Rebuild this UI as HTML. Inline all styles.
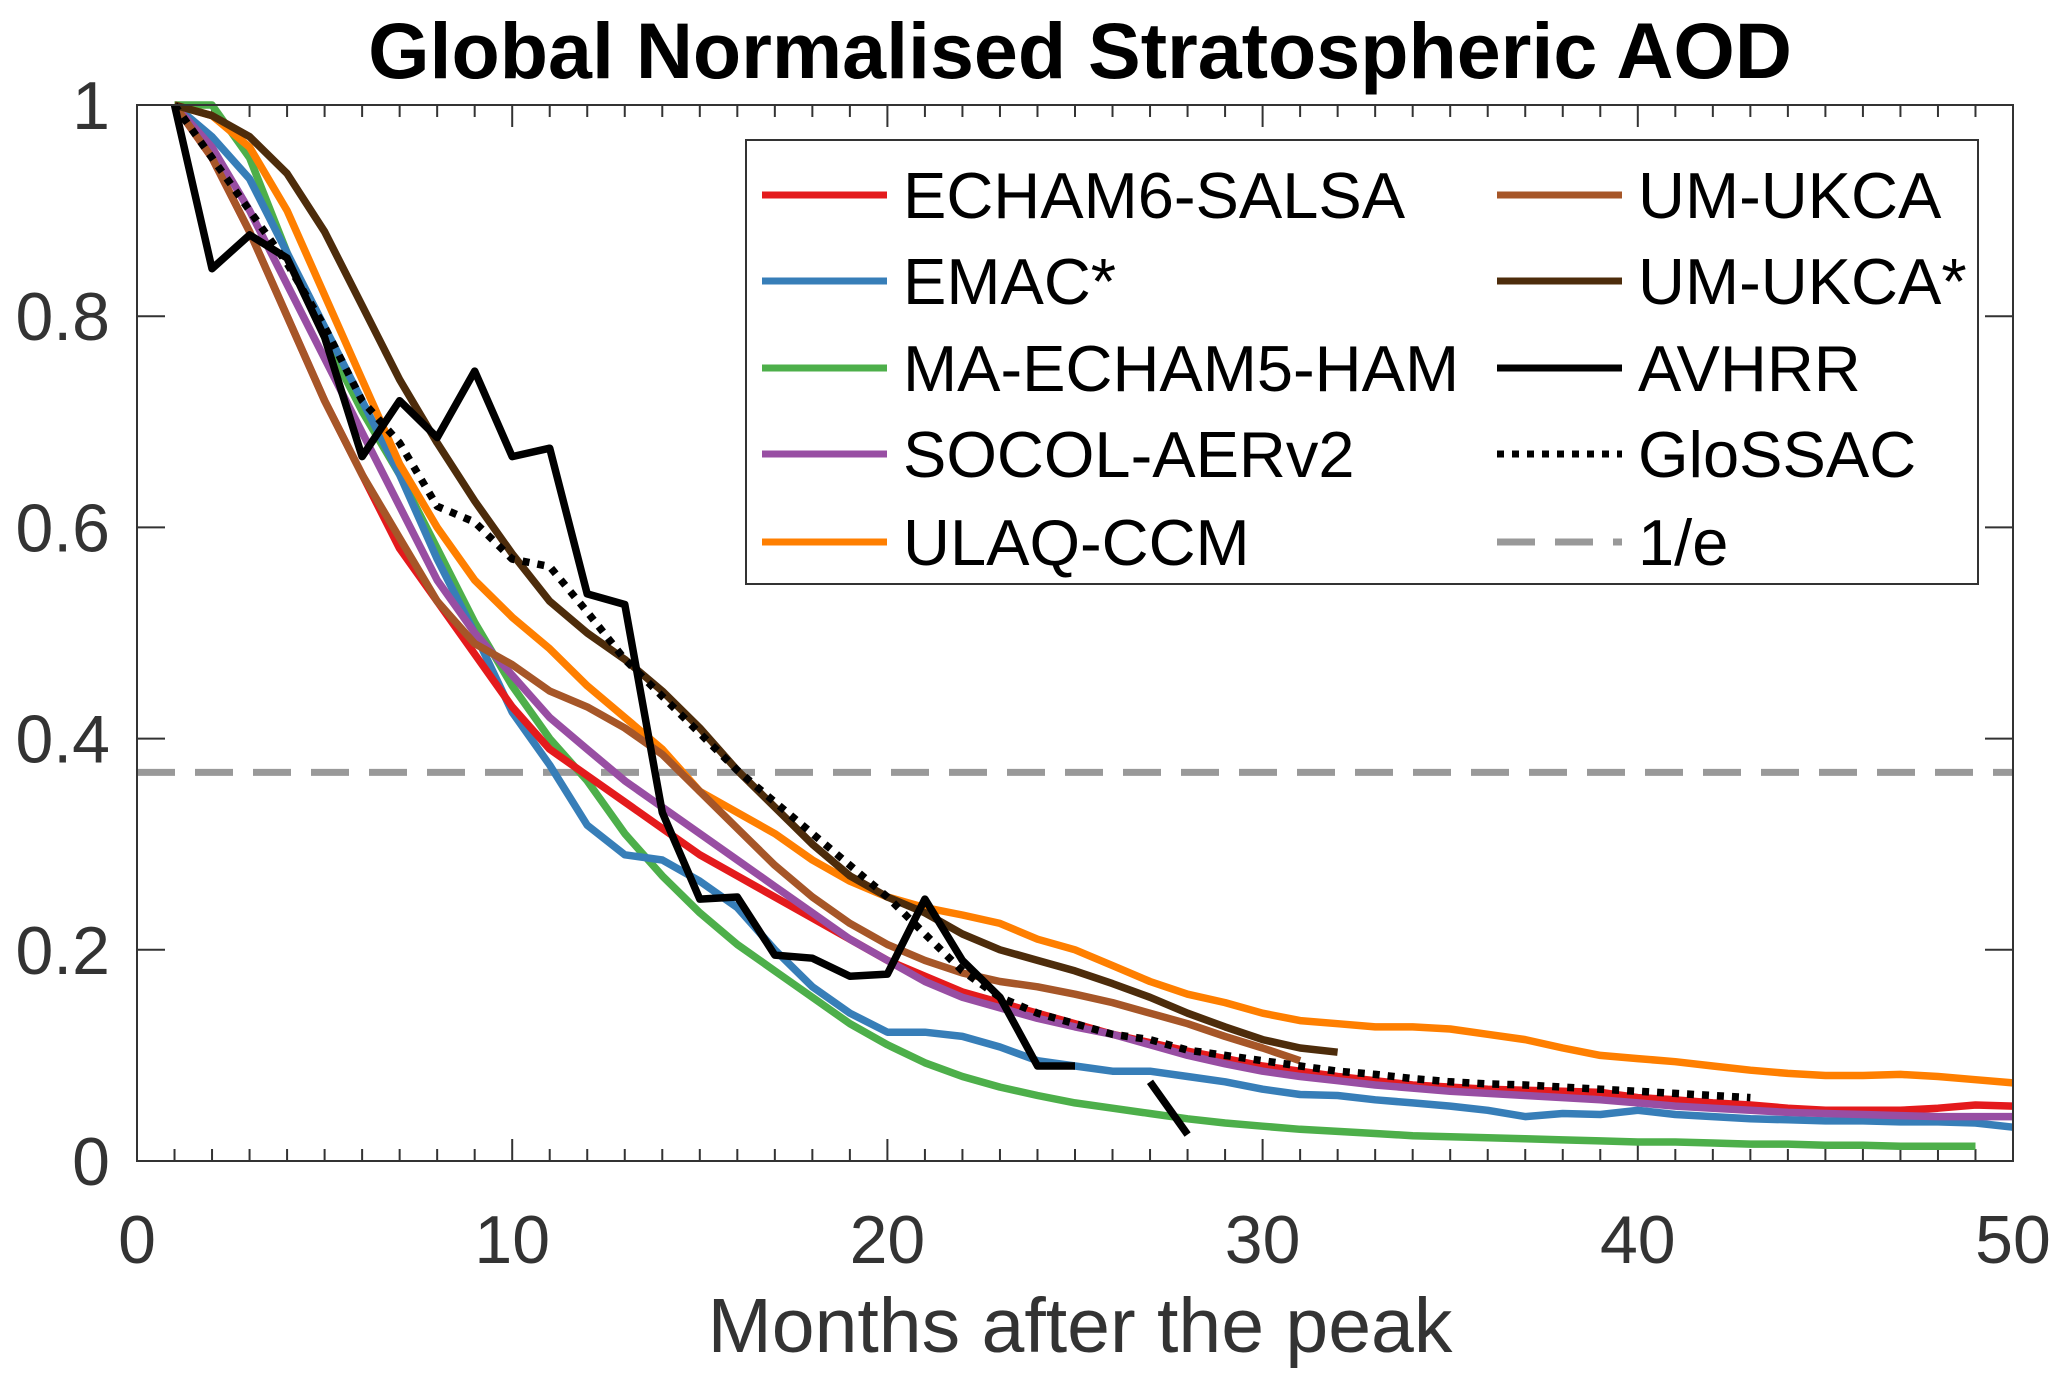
<!DOCTYPE html>
<html><head><meta charset="utf-8"><style>
body{margin:0;background:#fff}
svg text{font-family:"Liberation Sans",Arial,sans-serif}
</style></head><body>
<svg id="chart" width="2067" height="1385" viewBox="0 0 2067 1385" xmlns="http://www.w3.org/2000/svg">
<rect width="2067" height="1385" fill="#fff"/>
<text x="1080" y="78" font-size="79" font-weight="bold" text-anchor="middle" fill="#000">Global Normalised Stratospheric AOD</text>
<text x="1080" y="1352" font-size="77" text-anchor="middle" fill="#333">Months after the peak</text>
<g id="grid"></g>
<g id="series"></g>
<rect x="137" y="105" width="1876" height="1056" fill="none" stroke="#333" stroke-width="2"/>
<g id="legend"></g>
</svg>
<script>
const xTicks=[0,10,20,30,40,50];
const yTicks=[0,0.2,0.4,0.6,0.8,1];
const yTickLabels=["0","0.2","0.4","0.6","0.8","1"];
const seriesNames=["ECHAM6-SALSA","EMAC*","MA-ECHAM5-HAM","SOCOL-AERv2","ULAQ-CCM","UM-UKCA","UM-UKCA*","AVHRR","GloSSAC"];
const echam6=[1,0.95,0.88,0.8,0.72,0.65,0.58,0.53,0.48,0.43,0.39,0.365,0.34,0.315,0.29,0.27,0.25,0.23,0.21,0.19,0.175,0.16,0.15,0.14,0.13,0.12,0.112,0.104,0.097,0.09,0.085,0.08,0.076,0.072,0.07,0.068,0.067,0.066,0.065,0.06,0.058,0.055,0.053,0.05,0.048,0.048,0.048,0.05,0.053,0.052];
const emac=[1,0.97,0.93,0.86,0.79,0.72,0.65,0.57,0.5,0.425,0.375,0.318,0.29,0.285,0.265,0.24,0.2,0.165,0.14,0.122,0.122,0.118,0.108,0.095,0.09,0.085,0.085,0.08,0.075,0.068,0.063,0.062,0.058,0.055,0.052,0.048,0.042,0.045,0.044,0.048,0.044,0.042,0.04,0.039,0.038,0.038,0.037,0.037,0.036,0.032];
const maecham=[1,1,0.95,0.86,0.78,0.71,0.65,0.58,0.51,0.45,0.4,0.36,0.31,0.27,0.235,0.205,0.18,0.155,0.13,0.11,0.093,0.08,0.07,0.062,0.055,0.05,0.045,0.04,0.036,0.033,0.03,0.028,0.026,0.024,0.023,0.022,0.021,0.02,0.019,0.018,0.018,0.017,0.016,0.016,0.015,0.015,0.014,0.014,0.014];
const socol=[1,0.96,0.9,0.83,0.76,0.69,0.62,0.55,0.5,0.46,0.42,0.39,0.36,0.335,0.31,0.285,0.26,0.235,0.21,0.19,0.17,0.155,0.145,0.135,0.127,0.12,0.11,0.1,0.092,0.085,0.08,0.076,0.072,0.069,0.066,0.064,0.062,0.06,0.058,0.055,0.052,0.05,0.048,0.046,0.045,0.044,0.043,0.042,0.042,0.042];
const ulaq=[1,0.99,0.96,0.9,0.82,0.74,0.66,0.6,0.55,0.515,0.485,0.45,0.42,0.39,0.35,0.33,0.31,0.285,0.265,0.25,0.24,0.233,0.225,0.21,0.2,0.185,0.17,0.158,0.15,0.14,0.133,0.13,0.127,0.127,0.125,0.12,0.115,0.107,0.1,0.097,0.094,0.09,0.086,0.083,0.081,0.081,0.082,0.08,0.077,0.074];
const umukca=[1,0.95,0.88,0.8,0.72,0.65,0.59,0.53,0.49,0.47,0.445,0.43,0.41,0.385,0.35,0.315,0.28,0.25,0.225,0.205,0.19,0.178,0.17,0.165,0.158,0.15,0.14,0.13,0.118,0.107,0.095];
const umukcaStar=[1,0.99,0.97,0.935,0.88,0.81,0.74,0.68,0.625,0.575,0.53,0.5,0.475,0.445,0.41,0.37,0.335,0.3,0.27,0.25,0.235,0.215,0.2,0.19,0.18,0.168,0.155,0.14,0.127,0.115,0.107,0.103];
const avhrr=[1,0.845,0.877,0.855,0.78,0.667,0.72,0.685,0.748,0.667,0.675,0.537,0.527,0.33,0.248,0.25,0.195,0.192,0.175,0.177,0.248,0.19,0.155,0.09,0.09,null,0.075,0.025];
const glossac=[1,0.95,0.9,0.85,0.79,0.72,0.68,0.62,0.605,0.57,0.563,0.52,0.475,0.44,0.405,0.37,0.34,0.31,0.28,0.25,0.215,0.18,0.155,0.14,0.13,0.12,0.115,0.105,0.1,0.095,0.09,0.085,0.082,0.078,0.075,0.073,0.072,0.07,0.068,0.066,0.064,0.062,0.06];
const efold=[0.368];

const L=137,R=2013,T=105,B=1161;
const xs=m=>L+(m/50)*(R-L);
const ys=v=>B-v*(B-T);
const NS="http://www.w3.org/2000/svg";
function mk(tag,attrs,parent){const e=document.createElementNS(NS,tag);for(const k in attrs)e.setAttribute(k,attrs[k]);parent.appendChild(e);return e;}
const grid=document.getElementById('grid');
for(let m=1;m<50;m++){
  const major=m%10===0;const len=major?22:12;
  let t=mk('line',{x1:xs(m),x2:xs(m),y1:B,y2:B-len,stroke:'#333','stroke-width':2},grid);
  
  
  t=mk('line',{x1:xs(m),x2:xs(m),y1:T,y2:T+len,stroke:'#333','stroke-width':2},grid);
  
  
}
xTicks.forEach(v=>{
  const t=mk('text',{x:xs(v),y:1263,'font-size':68,'text-anchor':'middle',fill:'#333'},grid);
  t.textContent=v;
  
  
});
yTicks.forEach((v,i)=>{
  let t=mk('line',{x1:L,x2:L+28,y1:ys(v),y2:ys(v),stroke:'#333','stroke-width':2},grid);
  
  
  t=mk('line',{x1:R,x2:R-28,y1:ys(v),y2:ys(v),stroke:'#333','stroke-width':2},grid);
  
  
  const lb=mk('text',{x:110,y:ys(v)+24,'font-size':68,'text-anchor':'end',fill:'#333'},grid);
  lb.textContent=yTickLabels[i];
  
  
});
const sg=document.getElementById('series');
function drawLine(arr,color,name,dash,w){
  let d='';let pen=false;
  arr.forEach((v,i)=>{if(v===null){pen=false;return;}d+=(pen?'L':'M')+xs(i+1).toFixed(1)+','+ys(v).toFixed(1);pen=true;});
  const p=mk('path',{d:d,fill:'none',stroke:color,'stroke-width':w||7.5,'stroke-linejoin':'round'},sg);
  if(dash)p.setAttribute('stroke-dasharray',dash);
  
  
}
const ef=mk('line',{x1:L,x2:R,y1:ys(efold[0]),y2:ys(efold[0]),stroke:'#999','stroke-width':7,'stroke-dasharray':'38 20'},sg);


drawLine(maecham,'#4daf4a','line-ma-echam5-ham');
drawLine(emac,'#377eb8','line-emac');
drawLine(echam6,'#e41a1c','line-echam6-salsa');
drawLine(socol,'#984ea3','line-socol-aerv2');
drawLine(ulaq,'#ff7f00','line-ulaq-ccm');
drawLine(umukca,'#a65628','line-um-ukca');
drawLine(umukcaStar,'#4d2c0b','line-um-ukca-star');
drawLine(glossac,'#000','line-glossac','7 8',7.5);
drawLine(avhrr,'#000','line-avhrr',null,7.5);
const lg=document.getElementById('legend');
mk('rect',{x:746,y:140,width:1232,height:444,fill:'#fff',stroke:'#333','stroke-width':2},lg);
const entries=[
 ['ECHAM6-SALSA','#e41a1c',null,0,0],['EMAC*','#377eb8',null,0,1],['MA-ECHAM5-HAM','#4daf4a',null,0,2],['SOCOL-AERv2','#984ea3',null,0,3],['ULAQ-CCM','#ff7f00',null,0,4],
 ['UM-UKCA','#a65628',null,1,0],['UM-UKCA*','#4d2c0b',null,1,1],['AVHRR','#000',null,1,2],['GloSSAC','#000','7 8',1,3],['1/e','#999','38 20',1,4]];
const rowsY=[195,281,368,454,542];
entries.forEach(e=>{
  const lx=e[3]?1497:762, tx=e[3]?1638:903, y=rowsY[e[4]];
  const g=mk('g',{},lg);
  
  
  const l=mk('line',{x1:lx,x2:lx+125,y1:y,y2:y,stroke:e[1],'stroke-width':7},g);
  if(e[2])l.setAttribute('stroke-dasharray',e[2]);
  const t=mk('text',{x:tx,y:y+23,'font-size':65,fill:'#000'},g);
  t.textContent=e[0];
});
</script>
</body></html>
